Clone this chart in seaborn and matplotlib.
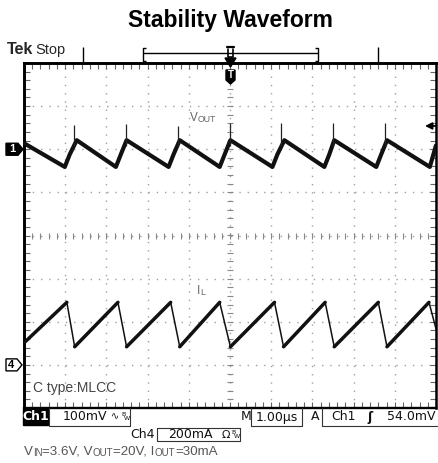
import numpy as np
import pandas as pd
import matplotlib
matplotlib.use("Agg")
import matplotlib.pyplot as plt
import seaborn as sns
from matplotlib.patches import Polygon, Rectangle

# ── scope settings ──────────────────────────────────────────────────────────
CH1_MV_DIV = 100      # Ch1 100mV/div
CH4_MA_DIV = 200      # Ch4 200mA/div
CH1_POS = 2.0         # ground marker position, divisions
CH4_POS = -3.0
TRIG_MV = 54.0

# ── Vout (Ch1), µs / mV ────────────────────────────────────────────────────
vout_t = [-5.0, -4.01, -3.89, -3.72, -2.77, -2.65, -2.51, -1.49, -1.37, -1.22,
          -0.25, -0.13, 0.01, 1.03, 1.15, 1.32, 2.29, 2.41, 2.53, 3.55, 3.67,
          3.81, 4.85, 5.0]
vout_mv = [14, -41, -12, 21, -41, -12, 21, -41, -12, 21,
           -41, -12, 21, -41, -12, 21, -41, -12, 21, -41, -12,
           21, -41, 9]

# switching spikes on Vout
spike_t = [-3.79, -2.53, -1.27, -0.01, 1.25, 2.51, 3.76]
spike_base_mv = [8, 8, 8, 8, 8, 8, 8]
spike_top_mv = [56, 58, 53, 60, 60, 62, 62]

# ── inductor current (Ch4), µs / mA ────────────────────────────────────────
il_t = [-5.0, -3.96, -3.77, -2.72, -2.51, -1.44, -1.22, -0.25, 0.01, 1.08,
        1.30, 2.31, 2.53, 3.60, 3.81, 4.83, 5.0]
il_ma = [102, 290, 84, 290, 84, 290, 84, 290, 84, 290,
         84, 290, 84, 290, 84, 290, 167]

W, H = 438, 463
AX_L, AX_R, AX_T, AX_B = 24, 436, 63, 408


def div_to_px(d):
    return AX_T + (4 - d) * (AX_B - AX_T) / 8


sns.set_theme(style="white")
plt.rcParams['font.family'] = ['Liberation Sans', 'DejaVu Sans']

fig = plt.figure(figsize=(W / 100, H / 100), dpi=100)
ax = fig.add_axes([AX_L / W, (H - AX_B) / H, (AX_R - AX_L) / W, (AX_B - AX_T) / H])

# data frames in divisions
df_v = pd.DataFrame({'t': vout_t, 'mv': vout_mv})
df_v['div'] = CH1_POS + df_v['mv'] / CH1_MV_DIV

rows = []
for i in range(len(il_t) - 1):
    kind = 'rise' if il_ma[i + 1] > il_ma[i] else 'fall'
    for j in (i, i + 1):
        rows.append({'seg': i, 'kind': kind, 't': il_t[j], 'ma': il_ma[j]})
df_il = pd.DataFrame(rows)
df_il['div'] = CH4_POS + df_il['ma'] / CH4_MA_DIV

sns.lineplot(data=df_v, x='t', y='div', sort=False, estimator=None,
             color='#111111', lw=3.0, ax=ax, zorder=4)
ax.vlines(spike_t, CH1_POS + np.array(spike_base_mv) / CH1_MV_DIV,
          CH1_POS + np.array(spike_top_mv) / CH1_MV_DIV,
          color='#222222', lw=0.9, zorder=4)
sns.lineplot(data=df_il[df_il['kind'] == 'rise'], x='t', y='div', units='seg',
             estimator=None, color='#111111', lw=2.5, ax=ax, zorder=4)
sns.lineplot(data=df_il[df_il['kind'] == 'fall'], x='t', y='div', units='seg',
             estimator=None, color='#111111', lw=1.1, ax=ax, zorder=4)

# graticule
ax.set_xlim(-5, 5)
ax.set_ylim(-4, 4)
ax.set_xticks(np.arange(-5, 6))
ax.set_yticks(np.arange(-4, 5))
minor_x = np.arange(-5, 5.001, 0.2)
minor_y = np.arange(-4, 4.001, 0.2)
ax.set_xticks(minor_x, minor=True)
ax.set_yticks(minor_y, minor=True)
ax.grid(True, which='major', color='#a0a0a0', linestyle=(0, (1, 4.95)), lw=1.0)
ax.set_axisbelow(True)
ax.tick_params(which='both', direction='in', length=4, width=0.8, color='#666666',
               top=True, right=True, bottom=True, left=True,
               labelbottom=False, labelleft=False)
ax.plot(minor_x, np.zeros_like(minor_x), ls='none', marker='|', ms=4.5, mew=0.8, color='#888888')
ax.plot(np.zeros_like(minor_y), minor_y, ls='none', marker='_', ms=4.5, mew=0.8, color='#888888')
ax.set_xlabel('')
ax.set_ylabel('')
for side, lw in [('left', 2.1), ('top', 2.1), ('bottom', 1.7), ('right', 1.8)]:
    ax.spines[side].set_linewidth(lw)
    ax.spines[side].set_color('black')

# labels in the screen
t1 = ax.text(-0.98, 2.65, 'V', fontsize=8.5, color='#666666', va='baseline')
ax.annotate('OUT', xy=(1, 0), xycoords=t1, fontsize=6.3, color='#666666', va='bottom')
t2 = ax.text(-0.80, -1.35, 'I', fontsize=8.5, color='#666666', va='baseline')
ax.annotate('L', xy=(1, 0), xycoords=t2, fontsize=6.3, color='#666666', va='bottom')
ax.text(-4.78, -3.54, 'C type:MLCC', fontsize=10, color='#444444', va='center')

# ── overlay in pixel coordinates for the scope chrome ──────────────────────
deco = fig.add_axes([0, 0, 1, 1])
deco.set_xlim(0, W)
deco.set_ylim(H, 0)
deco.axis('off')
deco.patch.set_alpha(0)
deco.set_zorder(5)

deco.text(230, 20, 'Stability Waveform', ha='center', va='center',
          fontsize=16.5, fontweight='bold', color='black')
deco.text(7, 50, 'Tek', ha='left', va='center', fontsize=11.5, fontweight='bold')
deco.text(35, 50, 'Stop', ha='left', va='center', fontsize=10.5)

k = dict(color='black', lw=1.0, solid_capstyle='butt')
deco.plot([83, 83], [47, 63], **k)
deco.plot([378, 378], [47, 63], **k)
deco.plot([143, 318], [53, 53], **k)
deco.plot([146, 143, 143, 146], [48, 48, 61, 61], **k)
deco.plot([315, 318, 318, 315], [48, 48, 61, 61], **k)
deco.plot([227, 234], [47, 47], color='black', lw=1.6)
deco.plot([228, 228, 233, 233], [49, 57, 57, 49], color='black', lw=1.2)
deco.add_patch(Polygon([(225, 58), (236, 58), (230.5, 67)], closed=True, color='black'))
deco.add_patch(Polygon([(226, 70), (235, 70), (235, 80), (230.5, 84), (226, 80)],
                       closed=True, color='black'))
deco.text(230.5, 75.5, 'T', color='white', fontsize=7, fontweight='bold', ha='center', va='center')

# trigger level arrow (right edge)
yt = div_to_px(CH1_POS + TRIG_MV / CH1_MV_DIV)
deco.annotate('', xy=(425, yt), xytext=(436, yt),
              arrowprops=dict(arrowstyle='-|>', color='black', lw=1.3,
                              mutation_scale=10, shrinkA=0, shrinkB=0))

# channel ground markers
y1 = div_to_px(CH1_POS)
deco.add_patch(Polygon([(6, y1 - 6), (18, y1 - 6), (23, y1), (18, y1 + 6), (6, y1 + 6)],
                       closed=True, color='black'))
deco.text(12, y1, '1', color='white', fontsize=8, fontweight='bold', ha='center', va='center')
y4 = div_to_px(CH4_POS)
deco.add_patch(Polygon([(6, y4 - 6), (17, y4 - 6), (22, y4), (17, y4 + 6), (6, y4 + 6)],
                       closed=True, fc='white', ec='black', lw=1.0))
deco.text(11.5, y4, '4', color='black', fontsize=8, fontweight='bold', ha='center', va='center')

# status bar
sb = dict(fontsize=9, family='DejaVu Sans', color='#111111', va='center')
deco.add_patch(Rectangle((23, 409), 25, 16, color='black'))
deco.text(35.5, 417, 'Ch1', ha='center', **{**sb, 'color': 'white', 'fontweight': 'bold'})
deco.plot([49, 49, 130, 130], [408, 426, 426, 408], color='#333333', lw=0.8)
deco.text(63, 417, '100mV', ha='left', **sb)
deco.text(115, 416, '∿', ha='center', **{**sb, 'fontsize': 7})
deco.text(123, 414, 'B', ha='center', **{**sb, 'fontsize': 4.5})
deco.text(126.5, 419, 'W', ha='center', **{**sb, 'fontsize': 4.5})

deco.text(241, 417, 'M', ha='left', **sb)
deco.plot([251, 251, 302, 302], [408, 426, 426, 408], color='#333333', lw=0.8)
deco.text(276.5, 417, '1.00µs', ha='center', **sb)
deco.text(311, 417, 'A', ha='left', **sb)
deco.plot([322, 322, 437], [408, 426, 426], color='#333333', lw=0.8)
deco.text(331, 417, 'Ch1', ha='left', **sb)
deco.text(370, 417, 'ʃ', ha='center', **{**sb, 'fontweight': 'bold'})
deco.text(436, 417, '54.0mV', ha='right', **sb)

deco.text(155, 434, 'Ch4', ha='right', **sb)
deco.plot([157, 157, 240, 240, 157], [428, 441, 441, 428, 428], color='#333333', lw=0.8)
deco.text(168, 434.5, '200mA', ha='left', **sb)
deco.text(226, 434.5, 'Ω', ha='center', **{**sb, 'fontsize': 8})
deco.text(233, 432, 'B', ha='center', **{**sb, 'fontsize': 4.5})
deco.text(236.5, 437, 'W', ha='center', **{**sb, 'fontsize': 4.5})

# operating conditions caption
cap = dict(fontsize=9.6, color='#555555')
sm = dict(fontsize=7, color='#555555')
parts = [('V', cap), ('IN', sm), ('=3.6V, V', cap), ('OUT', sm), ('=20V, I', cap),
         ('OUT', sm), ('=30mA', cap)]
prev = deco.text(24, 458, parts[0][0], ha='left', va='bottom', **parts[0][1])
for txt, st in parts[1:]:
    prev = deco.annotate(txt, xy=(1, 0), xycoords=prev, ha='left', va='bottom', **st)

fig.savefig('out.png', dpi=100)
